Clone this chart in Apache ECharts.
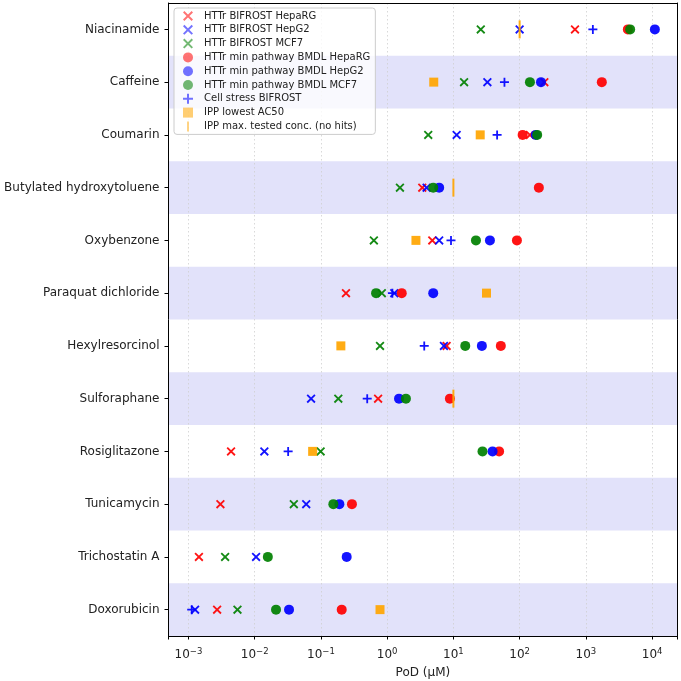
<!DOCTYPE html>
<html><head><meta charset="utf-8">
<script src="https://cdn.jsdelivr.net/npm/echarts@6/dist/echarts.min.js"></script>
<style>html,body{margin:0;padding:0;background:#fff}#c{width:681px;height:681px}</style>
</head><body><div id="c"></div>
<script>
const categories = ['Niacinamide','Caffeine','Coumarin','Butylated hydroxytoluene','Oxybenzone','Paraquat dichloride','Hexylresorcinol','Sulforaphane','Rosiglitazone','Tunicamycin','Trichostatin A','Doxorubicin'];
const bifrostHepaRG = [685, 236, 143, 3.39, 4.8, 0.239, 7.9, 0.73, 0.0044, 0.00304, 0.00144, 0.00271];
const bifrostHepG2  = [100, 32.6, 11.2, 3.94, 6.1, 1.28, 7.2, 0.071, 0.014, 0.060, 0.0105, 0.00126];
const bifrostMCF7   = [25.9, 14.5, 4.17, 1.56, 0.63, 0.83, 0.78, 0.183, 0.099, 0.039, 0.00358, 0.0055];
const bmdlHepaRG    = [4300, 1740, 111, 195, 91, 1.66, 52, 8.85, 49, 0.294, null, 0.206];
const bmdlHepG2     = [11000, 210, 175, 6.1, 35.6, 4.96, 26.9, 1.51, 39, 0.19, 0.245, 0.033];
const bmdlMCF7      = [4660, 143, 184, 4.96, 21.9, 0.68, 15.1, 1.92, 27.5, 0.154, 0.0158, 0.021];
const cellStress    = [1275, 59, 45.7, null, 9.2, 1.2, 3.63, 0.50, 0.032, null, null, 0.00112];
const ippLowestAC50 = [null, 5.05, 25.4, null, 2.72, 31.6, 0.20, null, 0.075, null, null, 0.78];
const ippMaxTested  = [100, null, null, 10, null, null, null, 10, null, null, null, null];
const xMin = 5.0e-4, xMax = 2.4e4;

const X_PATH = 'path://M0,1.4L1.4,0L10,8.6L8.6,10ZM8.6,0L10,1.4L1.4,10L0,8.6Z';
const PLUS_PATH = 'path://M4,0H6V4H10V6H6V10H4V6H0V4H4Z';
const BAR_PATH = 'path://M4.3,1H5.7V9H4.3Z';
const RED='#ff0000', BLUE='#0000ff', GREEN='#008000', ORANGE='#ffa500';
const FONT = 'DejaVu Sans';

const defs = [
  {name:'HTTr BIFROST HepaRG', data:bifrostHepaRG, symbol:X_PATH, size:9, color:RED},
  {name:'HTTr BIFROST HepG2', data:bifrostHepG2, symbol:X_PATH, size:9, color:BLUE},
  {name:'HTTr BIFROST MCF7', data:bifrostMCF7, symbol:X_PATH, size:9, color:GREEN},
  {name:'HTTr min pathway BMDL HepaRG', data:bmdlHepaRG, symbol:'circle', size:10, color:RED},
  {name:'HTTr min pathway BMDL HepG2', data:bmdlHepG2, symbol:'circle', size:10, color:BLUE},
  {name:'HTTr min pathway BMDL MCF7', data:bmdlMCF7, symbol:'circle', size:10, color:GREEN},
  {name:'Cell stress BIFROST', data:cellStress, symbol:PLUS_PATH, size:9, color:BLUE},
  {name:'IPP lowest AC50', data:ippLowestAC50, symbol:'rect', size:9, color:ORANGE},
  {name:'IPP max. tested conc. (no hits)', data:ippMaxTested, symbol:'rect', size:[2,18], color:ORANGE}
];

const series = defs.map(d => ({
  name: d.name, type:'scatter', xAxisIndex:0, yAxisIndex:0,
  symbol: d.symbol, symbolSize: d.size,
  itemStyle: {color: d.color, opacity: 0.92},
  data: d.data.map((v,i) => v == null ? null : [v, categories[i]]).filter(p => p),
  emphasis: {disabled:true}, animation:false
}));

const legendData = defs.map((d,i) => ({
  name: d.name,
  icon: i === 8 ? BAR_PATH : (d.symbol === 'rect' ? 'path://M0,0H10V10H0Z' : d.symbol),
  itemStyle: {color: d.color, opacity: 0.55}
}));

function expLabel(v){
  const l = Math.log10(v);
  const e = Math.round(l);
  if (Math.abs(l - e) > 1e-6) return '';
  return '10{s|' + String(e).replace('-', '\u2212') + '}';
}

const chart = echarts.init(document.getElementById('c'), null, {renderer:'canvas'});
chart.setOption({
  animation:false,
  backgroundColor:'#ffffff',
  textStyle:{fontFamily:FONT},
  grid:{left:168.5, right:3.7, top:3, bottom:45, containLabel:false, outerBoundsMode:'none'},
  legend:{
    show:true, orient:'vertical', left:174, top:8,
    data: legendData,
    itemWidth:10, itemHeight:10, itemGap:3.8,
    padding:[3,5,3,9],
    backgroundColor:'rgba(255,255,255,0.8)', borderColor:'#cccccc', borderWidth:1, borderRadius:3,
    textStyle:{fontFamily:FONT, fontSize:10, color:'#222', padding:[0,0,0,6]},
    selectedMode:false
  },
  xAxis:[{
    type:'log', logBase:10, min:xMin, max:xMax, splitNumber:8,
    name:'PoD (\u00b5M)', nameLocation:'middle', nameGap:31,
    nameTextStyle:{fontFamily:FONT, fontSize:12, color:'#222'},
    axisLine:{show:true, lineStyle:{color:'#000', width:1}},
    axisTick:{show:true, length:3.5, lineStyle:{color:'#000'}},
    axisLabel:{show:true, margin:11, formatter:expLabel, fontFamily:FONT, fontSize:12, color:'#222',
      rich:{s:{fontSize:8.5, verticalAlign:'top', padding:[0,0,7,0], fontFamily:FONT, color:'#222'}}},
    splitLine:{show:true, lineStyle:{color:'#cfcfcf', type:[1.5,2.5], width:0.8}}
  },{
    type:'log', logBase:10, min:xMin, max:xMax, position:'top',
    axisLine:{show:true, onZero:false, lineStyle:{color:'#000', width:1}},
    axisTick:{show:false}, axisLabel:{show:false}, splitLine:{show:false}
  }],
  yAxis:[{
    type:'category', data:categories, inverse:true, boundaryGap:true,
    axisLine:{show:true, onZero:false, lineStyle:{color:'#000', width:1}},
    axisTick:{show:true, alignWithLabel:true, length:4, lineStyle:{color:'#000'}},
    axisLabel:{show:true, margin:9, fontFamily:FONT, fontSize:12, color:'#222'},
    splitLine:{show:false},
    splitArea:{show:true, areaStyle:{color:['rgba(255,255,255,0)','#e2e2fa']}}
  },{
    type:'category', data:categories, inverse:true, position:'right',
    axisLine:{show:true, onZero:false, lineStyle:{color:'#000', width:1}},
    axisTick:{show:false}, axisLabel:{show:false}, splitLine:{show:false}
  }],
  series: series
});
</script></body></html>
